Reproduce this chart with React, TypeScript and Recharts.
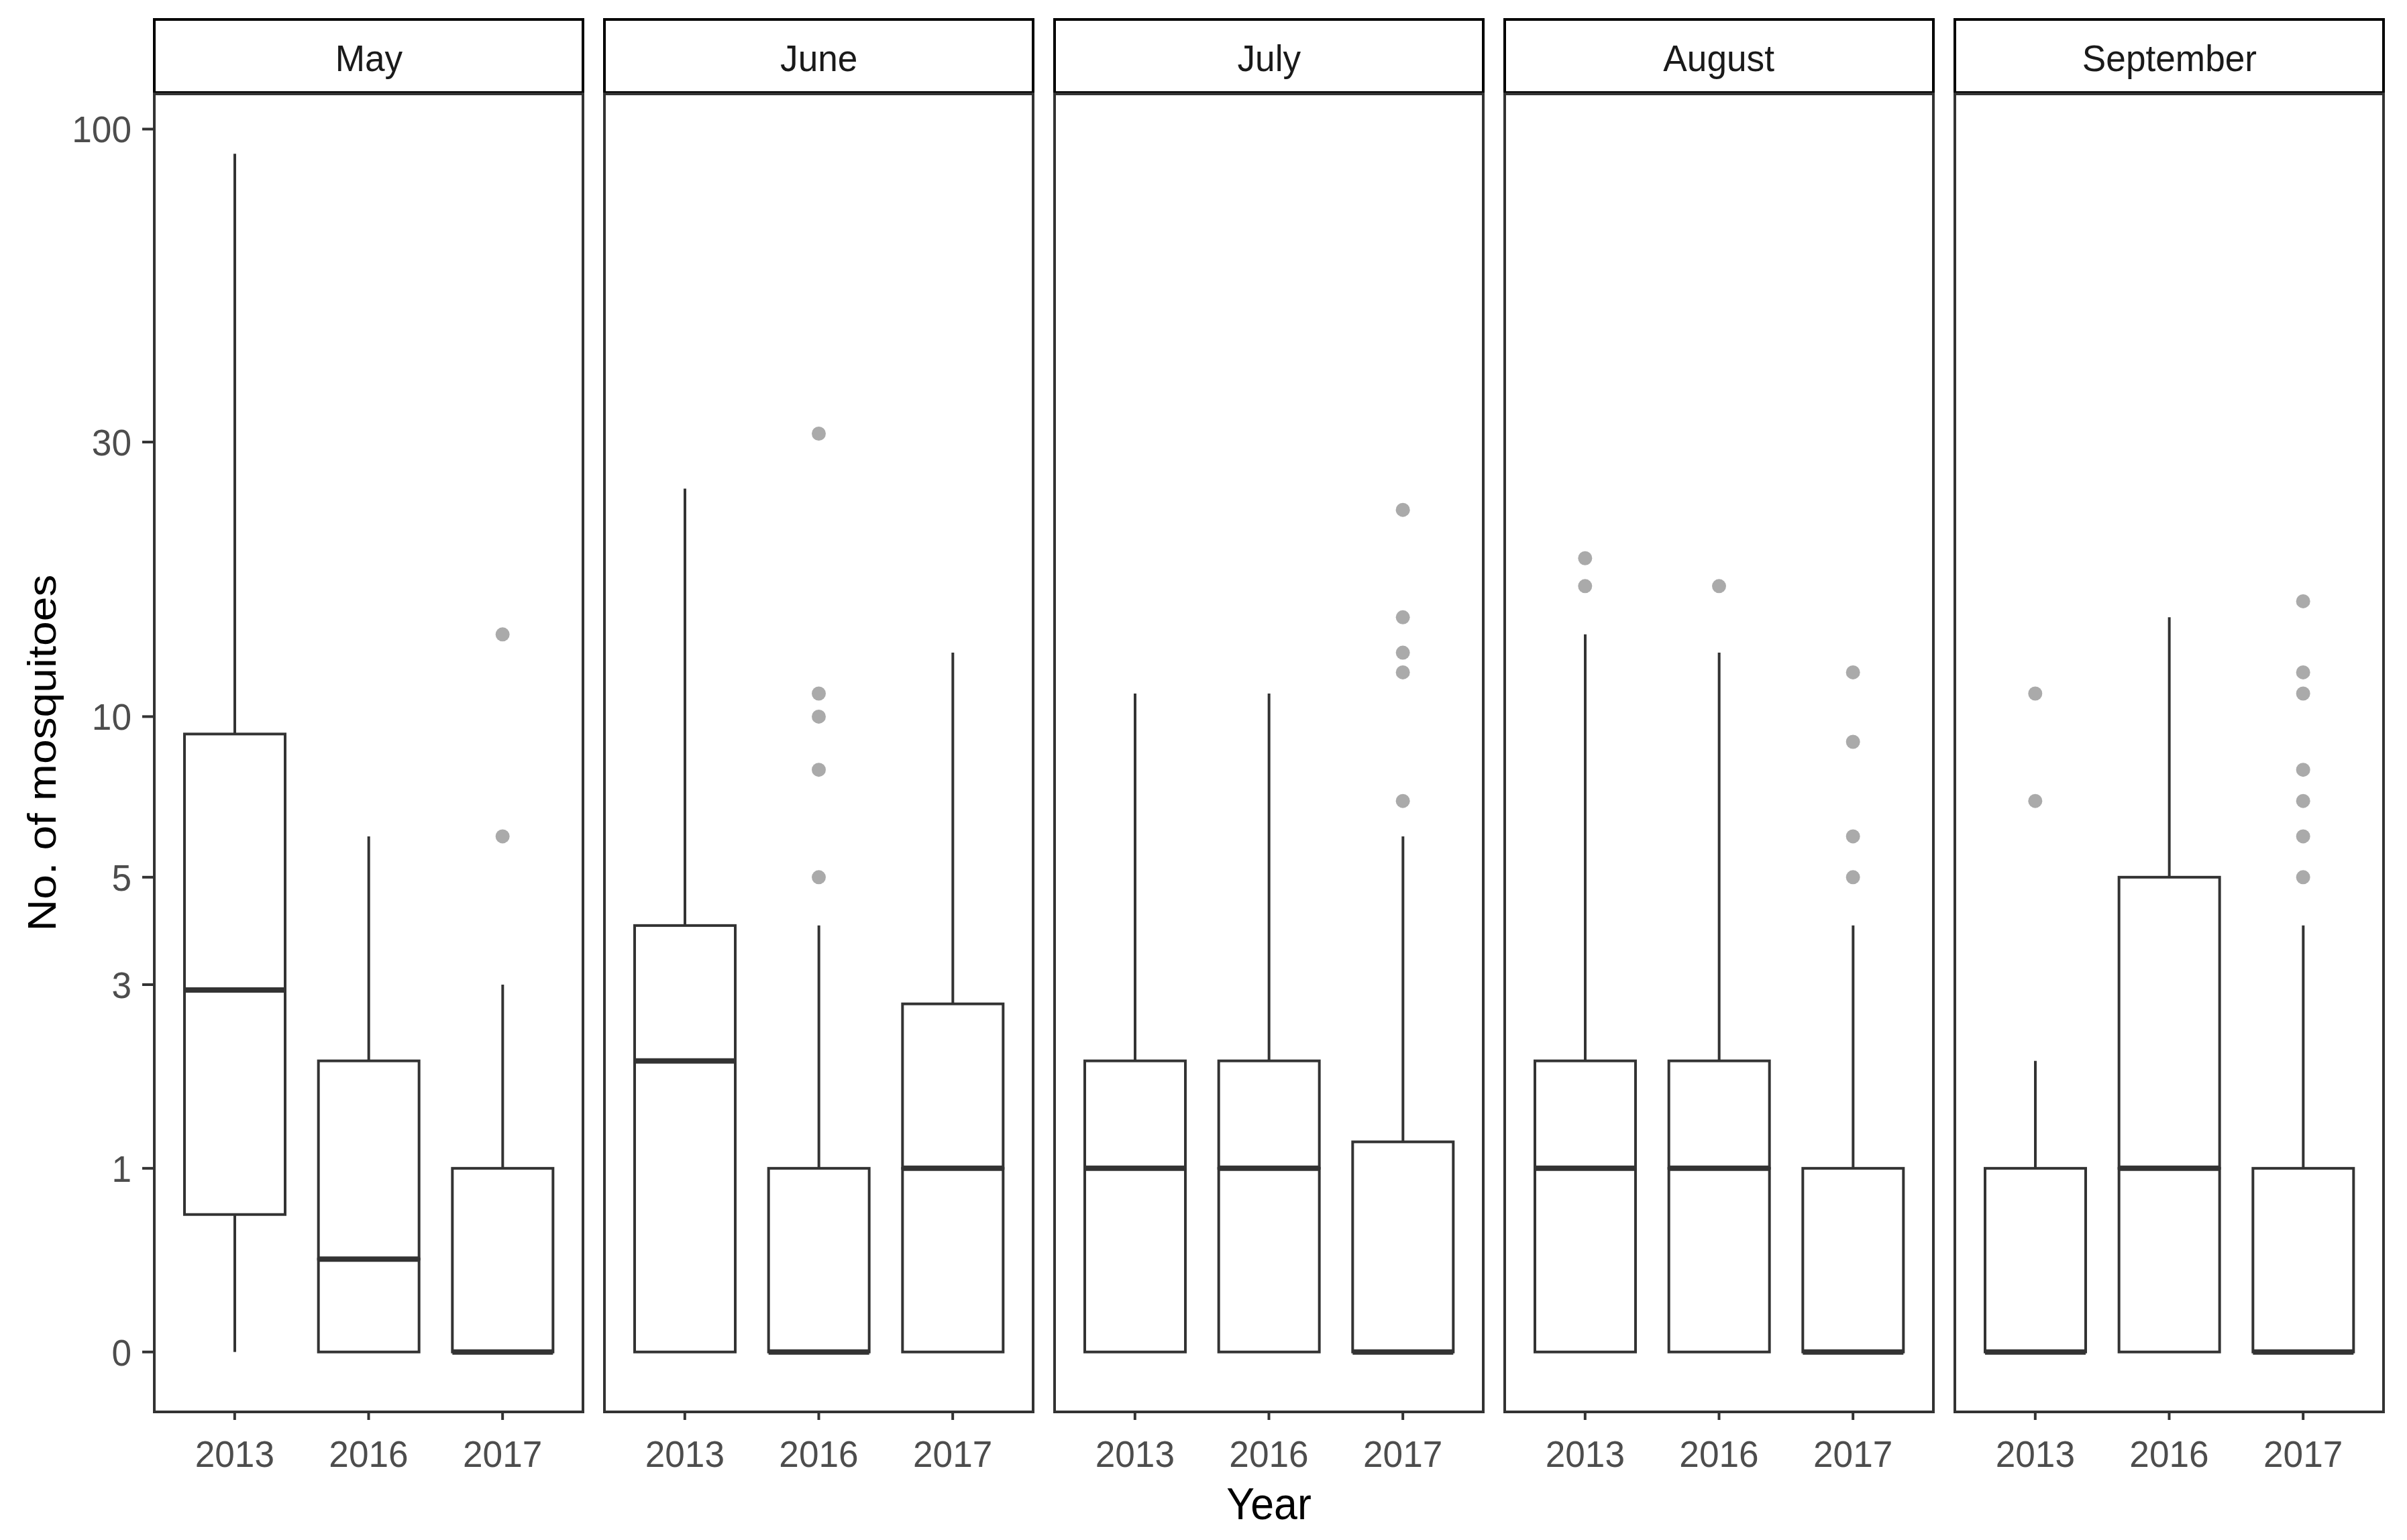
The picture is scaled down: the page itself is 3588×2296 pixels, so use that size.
import React from 'react'
import { ComposedChart, Bar, Scatter, XAxis, YAxis } from 'recharts'

const MONTHS = ['May', 'June', 'July', 'August', 'September']
const YEARS = ['2013', '2016', '2017']

// box stats per month, one value per year (counts)
const LOWER = [[0, 0, 0], [0, 0, 0], [0, 0, 0], [0, 0, 0], [0, 0, 0]]
const Q1 = [[0.68, 0, 0], [0, 0, 0], [0, 0, 0], [0, 0, 0], [0, 0, 0]]
const MEDIAN = [[2.92, 0.42, 0], [2, 0, 1], [1, 1, 0], [1, 1, 0], [0, 1, 0]]
const Q3 = [[9.3, 2, 1], [4, 1, 2.72], [2, 2, 1.21], [2, 2, 1], [1, 5, 1]]
const UPPER = [[91, 6, 3], [25, 4, 13], [11, 11, 6], [14, 13, 4], [2, 15, 4]]
const OUTLIERS = [
  [[], [], [6, 14]],
  [[], [5, 8, 10, 11, 31], []],
  [[], [], [7, 12, 13, 15, 23]],
  [[17, 19], [17], [5, 6, 9, 12]],
  [[7, 11], [], [5, 6, 7, 8, 11, 12, 16]],
]
const Y_TICKS = [0, 1, 3, 5, 10, 30, 100]

const INK = '#333333'
const TICK_GREY = '#4D4D4D'
const SQUASH = 0.95 // the source picture is slightly narrowed horizontally

const PANEL_LEFT = 230
const PANEL_W = 639
const GAP = 32
const PLOT_TOP = 140
const PLOT_H = 1965
const AXIS_H = 190
const Y_AXIS_W = 230

// log1p axis
const t = (v: number) => Math.log10(v + 1)
const DOMAIN = [-0.0982, 2.062]

const WhiskerShape = (p: any) => {
  const cx = p.x + p.width / 2
  return <line x1={cx} x2={cx} y1={p.y} y2={p.y + p.height} stroke={INK} strokeWidth={4} />
}

const LowerBoxShape = (p: any) =>
  p.height > 0 ? (
    <rect x={p.x} y={p.y} width={p.width} height={p.height} fill="#fff" stroke={INK} strokeWidth={4} />
  ) : (
    <g />
  )

const UpperBoxShape = (p: any) => (
  <g>
    <rect x={p.x} y={p.y} width={p.width} height={p.height} fill="#fff" stroke={INK} strokeWidth={4} />
    <line x1={p.x} x2={p.x + p.width} y1={p.y + p.height} y2={p.y + p.height} stroke={INK} strokeWidth={8} />
  </g>
)

const Dot = (p: any) => <circle cx={p.cx} cy={p.cy} r={10.5} fill="#AAAAAA" />

const XTick = ({ x, y, payload }: any) => (
  <g transform={`translate(${x},${y})`}>
    <text transform={`scale(${SQUASH},1)`} textAnchor="middle" dy="0.71em" fill={TICK_GREY} fontSize={56}>
      {payload.value}
    </text>
  </g>
)

const YTick = ({ x, y, payload }: any) => (
  <g transform={`translate(${x},${y})`}>
    <text transform={`scale(${SQUASH},1)`} textAnchor="end" dy="0.355em" fill={TICK_GREY} fontSize={56}>
      {Math.round(10 ** payload.value - 1)}
    </text>
  </g>
)

const YTitle = ({ viewBox }: any) => (
  <text
    transform={`translate(${viewBox.x + 83},${viewBox.y + viewBox.height / 2}) scale(0.9,1) rotate(-90)`}
    textAnchor="middle"
    fontSize={66}
    fill="#000"
  >
    No. of mosquitoes
  </text>
)

const XTitle = ({ viewBox }: any) => (
  <text
    transform={`translate(${viewBox.x + viewBox.width / 2},${viewBox.y + 160}) scale(${SQUASH},1)`}
    textAnchor="middle"
    fontSize={66}
    fill="#000"
  >
    Year
  </text>
)

function MonthPanel({ i }: { i: number }) {
  const first = i === 0
  const rows = YEARS.map((year, j) => {
    const lo = t(LOWER[i][j])
    const a = t(Q1[i][j])
    const m = t(MEDIAN[i][j])
    const b = t(Q3[i][j])
    const hi = t(UPPER[i][j])
    return { year, base: lo, lowWhisker: a - lo, lowBox: m - a, highBox: b - m, highWhisker: hi - b }
  })
  const points = OUTLIERS[i].flatMap((vals, j) => vals.map((v) => ({ year: YEARS[j], v: t(v) })))
  const left = PANEL_LEFT + i * (PANEL_W + GAP)
  const chartW = PANEL_W + (first ? Y_AXIS_W : 0)

  return (
    <>
      <div
        style={{
          position: 'absolute',
          left: left - 2,
          top: 27,
          width: PANEL_W + 4,
          height: PLOT_TOP - 27,
          border: '4px solid #000',
          boxSizing: 'border-box',
          display: 'flex',
          alignItems: 'center',
          justifyContent: 'center',
          paddingTop: 6,
          color: '#1A1A1A',
          fontSize: 56,
        }}
      >
        <span style={{ display: 'inline-block', transform: `scaleX(${SQUASH})` }}>{MONTHS[i]}</span>
      </div>
      <div style={{ position: 'absolute', left: first ? left - Y_AXIS_W : left, top: PLOT_TOP }}>
        <ComposedChart width={chartW} height={PLOT_H + AXIS_H} data={rows} margin={{ top: 0, right: 0, bottom: 0, left: 0 }}>
          <XAxis
            dataKey="year"
            type="category"
            allowDuplicatedCategory={false}
            padding={{ left: 20, right: 20 }}
            axisLine={false}
            tickLine={{ stroke: INK, strokeWidth: 4 }}
            tickSize={12}
            tickMargin={30}
            tick={<XTick />}
            height={AXIS_H}
            label={i === 2 ? { content: <XTitle /> } : undefined}
          />
          <YAxis
            type="number"
            domain={DOMAIN}
            allowDataOverflow
            ticks={Y_TICKS.map(t)}
            hide={!first}
            width={Y_AXIS_W}
            axisLine={false}
            tickLine={{ stroke: INK, strokeWidth: 4 }}
            tickSize={18}
            tickMargin={16}
            tick={<YTick />}
            label={first ? { content: <YTitle /> } : undefined}
          />
          <Bar dataKey="base" stackId="box" barSize={150} fill="none" isAnimationActive={false} />
          <Bar dataKey="lowWhisker" stackId="box" barSize={150} shape={<WhiskerShape />} isAnimationActive={false} />
          <Bar dataKey="lowBox" stackId="box" barSize={150} shape={<LowerBoxShape />} isAnimationActive={false} />
          <Bar dataKey="highBox" stackId="box" barSize={150} shape={<UpperBoxShape />} isAnimationActive={false} />
          <Bar dataKey="highWhisker" stackId="box" barSize={150} shape={<WhiskerShape />} isAnimationActive={false} />
          <Scatter data={points} dataKey="v" shape={<Dot />} isAnimationActive={false} />
        </ComposedChart>
      </div>
      <div
        style={{
          position: 'absolute',
          left: left - 2,
          top: PLOT_TOP - 2,
          width: PANEL_W + 4,
          height: PLOT_H + 4,
          border: `4.5px solid ${INK}`,
          boxSizing: 'border-box',
          pointerEvents: 'none',
        }}
      />
    </>
  )
}

export default function App() {
  return (
    <div
      style={{
        position: 'absolute',
        left: 0,
        top: 0,
        width: 3588,
        height: 2296,
        background: '#fff',
        fontFamily: '"Liberation Sans", Arial, sans-serif',
      }}
    >
      {MONTHS.map((m, i) => (
        <MonthPanel key={m} i={i} />
      ))}
    </div>
  )
}
